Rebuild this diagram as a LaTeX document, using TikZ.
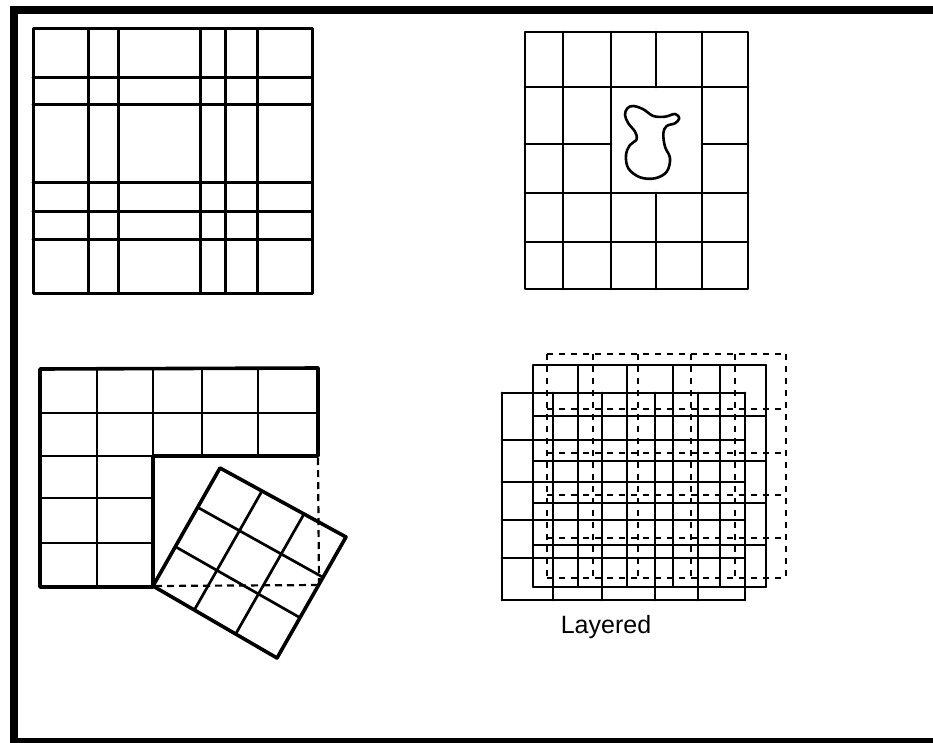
\documentclass[tikz,border=0pt]{standalone}
\usepackage{fontspec}
\setmainfont{Liberation Sans}
\usetikzlibrary{calc}
\begin{document}
\begin{tikzpicture}[x=1pt,y=-1pt,line cap=round,line join=round,
  pone/.style={line width=3pt},
  ptwo/.style={line width=2.8pt},
  pthreeo/.style={line width=3.6pt},
  pthreei/.style={line width=2.7pt},
  dashln/.style={line width=2.2pt,dash pattern=on 7pt off 5pt,line cap=butt},
  front/.style={line width=2.8pt},
  middle/.style={line width=1.7pt},
  back/.style={line width=2.2pt,dash pattern=on 6pt off 6pt,line cap=butt},
  lbl/.style={font=\fontsize{25}{28}\selectfont,inner sep=0pt}]
\useasboundingbox (0,0) rectangle (933,743);
% frame (open on the right)
\fill[black] (10,6) rectangle (933,14);
\fill[black] (10,6) rectangle (18,743);
\fill[black] (10,738) rectangle (933,743);

% Panel 1: irregular grid
\draw[pone] (33,29) rectangle (312,293);
\foreach \x in {88,118,200,225,257} \draw[pone] (\x,29) -- (\x,293);
\foreach \y in {78,105,183,212,239} \draw[pone] (33,\y) -- (312,\y);

% Panel 2: grid with merged cell and blob
\draw[ptwo] (525,32) rectangle (748,289);
\foreach \x in {563,611,702} \draw[ptwo] (\x,32) -- (\x,289);
\draw[ptwo] (656,32) -- (656,87);
\draw[ptwo] (656,193) -- (656,289);
\foreach \y in {87,193,242} \draw[ptwo] (525,\y) -- (748,\y);
\draw[ptwo] (525,144) -- (611,144);
\draw[ptwo] (702,144) -- (748,144);
\draw[line width=2.6pt] plot[smooth cycle,tension=0.6] coordinates {
 (633.3,106) (643.3,109.3) (653.3,116) (665,116.7) (675,114) (679.3,118.3)
 (675,123.3) (666.7,126) (663.3,133.3) (665,146.7) (670,158.3) (666.7,171.7)
 (655,178.3) (640,177.3) (628.3,168.3) (626,155) (630,145) (636.7,139.3)
 (635,131.7) (628.3,123.3) (625,115) (627.3,108.3)};

% Panel 3: L-shaped grid with rotated square
\draw[pthreeo] (40,369) -- (318,368) -- (318,456) -- (153,456) -- (153,587) -- (40,587) -- cycle;
\draw[pthreei] (97,369) -- (97,587);
\foreach \x in {153,202,258} \draw[pthreei] (\x,369) -- (\x,456);
\draw[pthreei] (40,413) -- (318,413);
\draw[pthreei] (40,456) -- (153,456);
\foreach \y in {498,543} \draw[pthreei] (40,\y) -- (153,\y);
\coordinate (dc) at (319,585);
\draw[dashln] (318,458) -- (dc);
\draw[dashln] (155,586) -- (dc);
\coordinate (A) at (153,586);
\coordinate (B) at (220,468);
\coordinate (C) at (346,537);
\coordinate (D) at (277,658);
\draw[pthreeo] (A) -- (B) -- (C) -- (D) -- cycle;
\foreach \t in {1/3,2/3} {
  \draw[pthreei] ($(A)!\t!(B)$) -- ($(D)!\t!(C)$);
  \draw[pthreei] ($(A)!\t!(D)$) -- ($(B)!\t!(C)$);
}

% Panel 4: layered grids
\foreach \x in {547,593,638,691,735,786} \draw[back] (\x,354) -- (\x,578);
\foreach \y in {354,409,453,495,538,578} \draw[back] (547,\y) -- (786,\y);
\foreach \x in {533,578,627,673,720,766} \draw[middle] (\x,365) -- (\x,587);
\foreach \y in {365,416,461,503,545,587} \draw[middle] (533,\y) -- (766,\y);
\foreach \x in {502,553,602,655,698,745} \draw[front] (\x,393) -- (\x,600);
\foreach \y in {393,440,482,520,558,600} \draw[front] (502,\y) -- (745,\y);
\node[lbl] (layered) at (606,627) {Layered};
\end{tikzpicture}
\end{document}
